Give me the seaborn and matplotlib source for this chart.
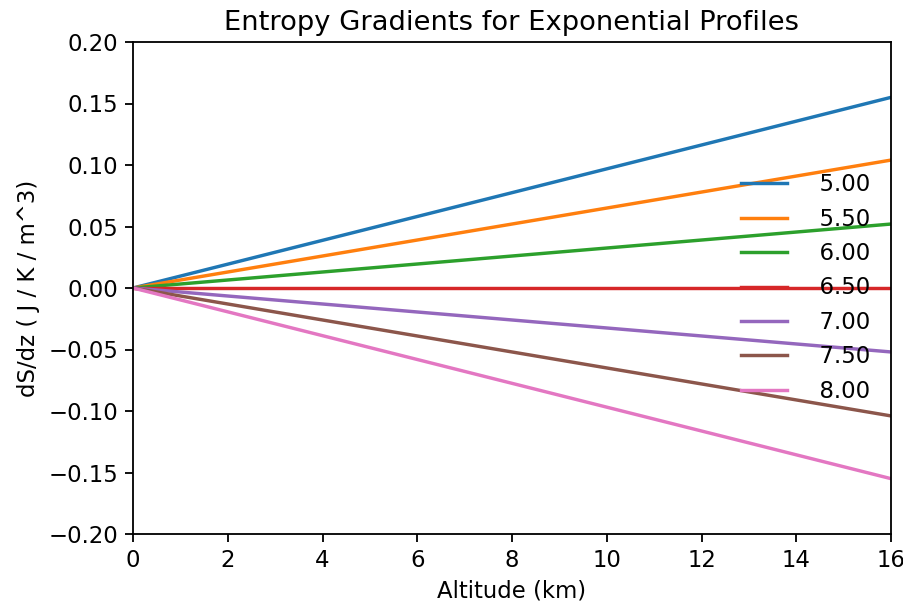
import matplotlib
matplotlib.use("Agg")
import matplotlib.pyplot as plt
import seaborn as sns
import pandas as pd
import numpy as np

# Data
labels = ["  5.00", "  5.50", "  6.00", "  6.50", "  7.00", "  7.50", "  8.00"]
altitude = [0.0, 16.0]  # km, line endpoints
grad_at_0 = [0.0, 0.0, 0.0, 0.0, 0.0, 0.0, 0.0]
grad_at_16 = [0.155, 0.104, 0.052, 0.0, -0.052, -0.104, -0.155]
colors = sns.color_palette("tab10", 7)

rows = []
for lab, g0, g16 in zip(labels, grad_at_0, grad_at_16):
    rows.append({"alt": altitude[0], "grad": g0, "label": lab})
    rows.append({"alt": altitude[1], "grad": g16, "label": lab})
df = pd.DataFrame(rows)

s = 1.14
plt.rcParams.update({
    "font.size": 10 * s,
    "axes.titlesize": 12 * s,
    "axes.linewidth": 0.8 * s,
    "xtick.major.size": 3.5 * s,
    "ytick.major.size": 3.5 * s,
    "xtick.major.width": 0.8 * s,
    "ytick.major.width": 0.8 * s,
})

fig = plt.figure(figsize=(903 / 144, 610 / 144), dpi=144)
ax = fig.add_axes([133 / 903, 1 - 534 / 610, (891 - 133) / 903, (534 - 42) / 610])

sns.lineplot(data=df, x="alt", y="grad", hue="label", hue_order=labels,
             palette=colors, linewidth=1.5 * s, ax=ax, legend=True)

ax.set_xlim(0, 16)
ax.set_ylim(-0.2, 0.2)
ax.set_yticks([-0.20, -0.15, -0.10, -0.05, 0.0, 0.05, 0.10, 0.15, 0.20])
ax.set_xticks([0, 2, 4, 6, 8, 10, 12, 14, 16])
ax.set_xlabel("Altitude (km)")
ax.set_ylabel("dS/dz ( J / K / m^3)")
ax.set_title("Entropy Gradients for Exponential Profiles")

handles, labs = ax.get_legend_handles_labels()
ax.legend(handles, labs, loc="center right", frameon=False)

fig.savefig("out.png", dpi=144)
